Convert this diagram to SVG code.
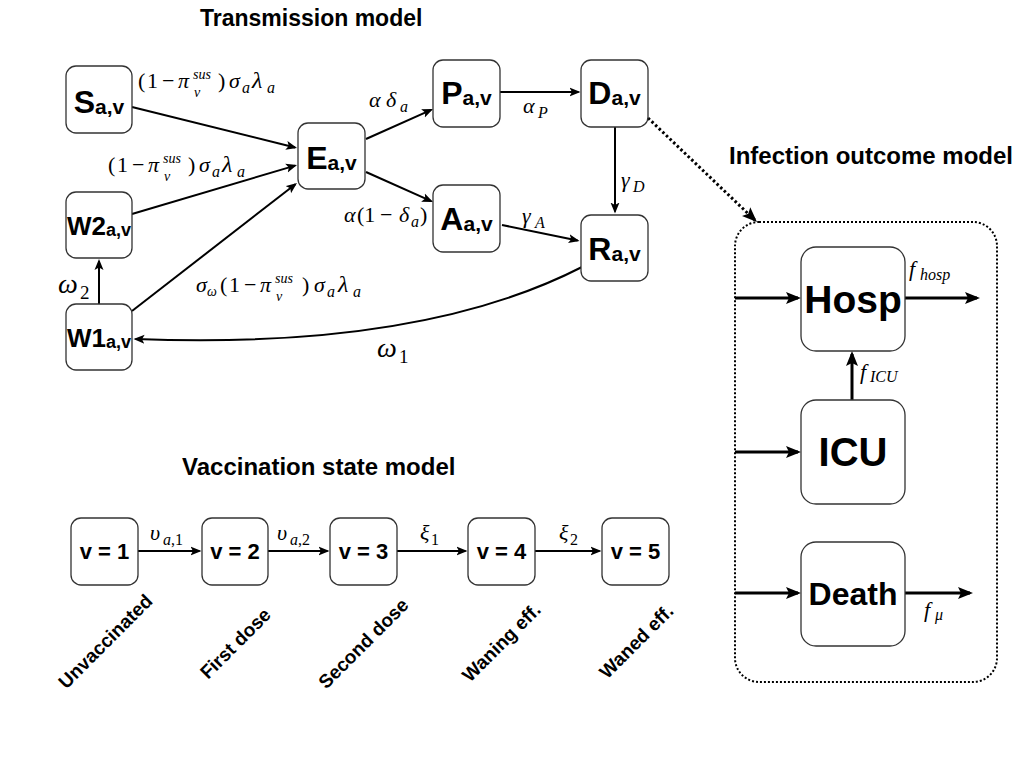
<svg xmlns="http://www.w3.org/2000/svg" width="1024" height="768" viewBox="0 0 1024 768">
<style>
  .box { fill: #fff; stroke: #333; stroke-width: 1.3; }
  .lbl { font-family: "Liberation Sans", Arial, sans-serif; font-weight: bold; fill: #000; }
  .title { font-family: "Liberation Sans", Arial, sans-serif; font-weight: bold; fill: #000; }
  .m { font-family: "Liberation Serif", "DejaVu Serif", serif; font-size: 22px; fill: #000; }
  .mi { font-style: italic; }
  .ms { font-style: italic; font-size: 16px; }
  .mss { font-style: italic; font-size: 14px; }
  .mn { font-size: 16px; }
  .edge { fill: none; stroke: #000; stroke-width: 2; }
  .edgeT { fill: none; stroke: #000; stroke-width: 3; }
  .rot { font-family: "Liberation Sans", Arial, sans-serif; font-weight: bold; font-size: 19px; fill: #000; }
</style>
<defs>
  <marker id="arr" markerUnits="userSpaceOnUse" markerWidth="12" markerHeight="10" viewBox="0 0 12 10" refX="9" refY="5" orient="auto">
    <path d="M0,0.5 L11,5 L0,9.5 L2.5,5 Z" fill="#000"/>
  </marker>
  <marker id="arrB" markerUnits="userSpaceOnUse" markerWidth="16" markerHeight="13" viewBox="0 0 16 13" refX="12" refY="6.5" orient="auto">
    <path d="M0,0.5 L15,6.5 L0,12.5 L3,6.5 Z" fill="#000"/>
  </marker>
  <marker id="arrD" markerUnits="userSpaceOnUse" markerWidth="16" markerHeight="13" viewBox="0 0 16 13" refX="12" refY="6.5" orient="auto">
    <path d="M0,0.5 L15,6.5 L0,12.5 L3,6.5 Z" fill="#000"/>
  </marker>
</defs>
<rect width="1024" height="768" fill="#fff"/>

<!-- Titles -->
<text class="title" x="200" y="26" font-size="23">Transmission model</text>
<text class="title" x="729" y="164" font-size="24">Infection outcome model</text>
<text class="title" x="182" y="475" font-size="24">Vaccination state model</text>

<!-- Connectors -->
<g id="connectors">
  <path class="edge" d="M132,107 L295.1,147.5" marker-end="url(#arr)"/>
  <path class="edge" d="M132,214 L295.1,165.6" marker-end="url(#arr)"/>
  <path class="edge" d="M132,311 L295.4,184.2" marker-end="url(#arr)"/>
  <path class="edge" d="M99,304 L99,261" marker-end="url(#arr)"/>
  <path class="edge" d="M366,139 L431.2,109.8" marker-end="url(#arr)"/>
  <path class="edge" d="M366,172 L431.2,201.2" marker-end="url(#arr)"/>
  <path class="edge" d="M500,92 L578.5,92" marker-end="url(#arr)"/>
  <path class="edge" d="M615,127 L615,211.5" marker-end="url(#arr)"/>
  <path class="edge" d="M502,225 L577.6,240.5" marker-end="url(#arr)"/>
  <path class="edge" d="M582,267 Q420,350 135.5,339" marker-end="url(#arr)"/>

  <path class="edge" stroke-width="1.7" d="M138,551 L199.5,551" marker-end="url(#arr)"/>
  <path class="edge" stroke-width="1.7" d="M268,551 L327.5,551" marker-end="url(#arr)"/>
  <path class="edge" stroke-width="1.7" d="M397,551 L465.5,551" marker-end="url(#arr)"/>
  <path class="edge" stroke-width="1.7" d="M535,551 L599.5,551" marker-end="url(#arr)"/>

  <path fill="none" stroke="#000" stroke-width="3" stroke-dasharray="2.5 2.5" d="M648,118 L754.8,220" marker-end="url(#arrD)"/>

  <path class="edgeT" d="M735,298 L798,298" marker-end="url(#arrB)"/>
  <path class="edgeT" d="M905,298 L977,298" marker-end="url(#arrB)"/>
  <path class="edgeT" d="M735,452 L798,452" marker-end="url(#arrB)"/>
  <path class="edgeT" d="M852,400 L852,354" marker-end="url(#arrB)"/>
  <path class="edgeT" d="M735,593 L798,593" marker-end="url(#arrB)"/>
  <path class="edgeT" d="M905,593 L970,593" marker-end="url(#arrB)"/>
</g>

<!-- Edge labels (math) -->
<g id="edge-labels">
  <text class="m" y="88"><tspan x="138">(</tspan><tspan x="147">1</tspan><tspan x="162">−</tspan><tspan x="178" class="mi">π</tspan><tspan x="193" y="79" class="mss">sus</tspan><tspan x="194" y="97" class="mss">v</tspan><tspan x="218" y="88">)</tspan><tspan x="229" class="mi">σ</tspan><tspan x="242" y="93" class="ms">a</tspan><tspan x="252" y="88" class="mi" font-size="24">λ</tspan><tspan x="267" y="93" class="ms">a</tspan></text>

  <text class="m" y="172"><tspan x="108">(</tspan><tspan x="117">1</tspan><tspan x="132">−</tspan><tspan x="148" class="mi">π</tspan><tspan x="163" y="163" class="mss">sus</tspan><tspan x="164" y="181" class="mss">v</tspan><tspan x="188" y="172">)</tspan><tspan x="199" class="mi">σ</tspan><tspan x="212" y="177" class="ms">a</tspan><tspan x="222" y="172" class="mi" font-size="24">λ</tspan><tspan x="237" y="177" class="ms">a</tspan></text>

  <text class="m" y="292"><tspan x="196" class="mi">σ</tspan><tspan x="207" y="296" class="mss" font-size="13">ω</tspan><tspan x="220" y="292">(</tspan><tspan x="229">1</tspan><tspan x="244">−</tspan><tspan x="260" class="mi">π</tspan><tspan x="275" y="283" class="mss">sus</tspan><tspan x="276" y="301" class="mss">v</tspan><tspan x="302" y="292">)</tspan><tspan x="314" class="mi">σ</tspan><tspan x="327" y="297" class="ms">a</tspan><tspan x="338" y="292" class="mi" font-size="24">λ</tspan><tspan x="353" y="297" class="ms">a</tspan></text>

  <text class="m" y="293"><tspan x="58" class="mi" font-size="28">ω</tspan><tspan x="80" y="299" font-size="19">2</tspan></text>
  <text class="m" y="357"><tspan x="377" class="mi" font-size="28">ω</tspan><tspan x="399" y="363" font-size="19">1</tspan></text>

  <text class="m" y="107"><tspan x="369" class="mi">α</tspan><tspan x="386" class="mi">δ</tspan><tspan x="400" y="112" class="ms">a</tspan></text>
  <text class="m" y="113"><tspan x="523" class="mi">α</tspan><tspan x="538" y="118" class="ms">P</tspan></text>
  <text class="m" y="187"><tspan x="621" class="mi">γ</tspan><tspan x="633" y="192" class="ms">D</tspan></text>
  <text class="m" y="222"><tspan x="344" class="mi">α</tspan><tspan x="357">(1</tspan><tspan x="380">−</tspan><tspan x="399" class="mi">δ</tspan><tspan x="411" y="227" class="ms">a</tspan><tspan x="420" y="222">)</tspan></text>
  <text class="m" y="223"><tspan x="522" class="mi">γ</tspan><tspan x="535" y="228" class="ms">A</tspan></text>

  <text class="m" y="540"><tspan x="150" class="mi">υ</tspan><tspan x="163" y="545" class="ms">a</tspan><tspan class="mn">,1</tspan></text>
  <text class="m" y="540"><tspan x="277" class="mi">υ</tspan><tspan x="290" y="545" class="ms">a</tspan><tspan class="mn">,2</tspan></text>
  <text class="m" y="540"><tspan x="420" class="mi">ξ</tspan><tspan x="431" y="545" class="mn">1</tspan></text>
  <text class="m" y="540"><tspan x="559" class="mi">ξ</tspan><tspan x="570" y="545" class="mn">2</tspan></text>

  <text class="m" y="276"><tspan x="909" class="mi">f</tspan><tspan x="920" y="280" class="ms">hosp</tspan></text>
  <text class="m" y="379"><tspan x="860" class="mi">f</tspan><tspan x="870" y="382" class="ms" font-size="14">ICU</tspan></text>
  <text class="m" y="617"><tspan x="924" class="mi">f</tspan><tspan x="935" y="620" class="ms">μ</tspan></text>
</g>

<!-- Transmission nodes -->
<g id="node-S"><rect class="box" x="66" y="66" width="66" height="67" rx="10"/><text class="lbl" x="99" y="113" text-anchor="middle"><tspan font-size="32">S</tspan><tspan font-size="21" dy="1">a,v</tspan></text></g>
<g id="node-W2"><rect class="box" x="66" y="192" width="66" height="66" rx="10"/><text class="lbl" x="99" y="235" text-anchor="middle"><tspan font-size="26">W2</tspan><tspan font-size="18" dy="1">a,v</tspan></text></g>
<g id="node-W1"><rect class="box" x="66" y="304" width="66" height="66" rx="10"/><text class="lbl" x="99" y="347" text-anchor="middle"><tspan font-size="26">W1</tspan><tspan font-size="18" dy="1">a,v</tspan></text></g>
<g id="node-E"><rect class="box" x="298" y="123" width="67" height="66" rx="10"/><text class="lbl" x="331.5" y="169" text-anchor="middle"><tspan font-size="32">E</tspan><tspan font-size="21" dy="1">a,v</tspan></text></g>
<g id="node-P"><rect class="box" x="433" y="60" width="67" height="67" rx="10"/><text class="lbl" x="466.5" y="104" text-anchor="middle"><tspan font-size="32">P</tspan><tspan font-size="21" dy="1">a,v</tspan></text></g>
<g id="node-D"><rect class="box" x="581" y="60" width="67" height="67" rx="10"/><text class="lbl" x="614.5" y="104" text-anchor="middle"><tspan font-size="32">D</tspan><tspan font-size="21" dy="1">a,v</tspan></text></g>
<g id="node-A"><rect class="box" x="433" y="185" width="67" height="67" rx="10"/><text class="lbl" x="466.5" y="230" text-anchor="middle"><tspan font-size="32">A</tspan><tspan font-size="21" dy="1">a,v</tspan></text></g>
<g id="node-R"><rect class="box" x="581" y="215" width="67" height="66" rx="10"/><text class="lbl" x="614.5" y="260" text-anchor="middle"><tspan font-size="32">R</tspan><tspan font-size="21" dy="1">a,v</tspan></text></g>

<!-- Infection outcome model -->
<g id="outcome-container"><rect x="735" y="222" width="262" height="460" rx="24" fill="none" stroke="#000" stroke-width="2" stroke-dasharray="2 2"/></g>
<g id="node-Hosp"><rect class="box" x="801" y="247" width="104" height="104" rx="15"/><text class="lbl" x="853" y="313" text-anchor="middle" font-size="39">Hosp</text></g>
<g id="node-ICU"><rect class="box" x="801" y="400" width="104" height="104" rx="15"/><text class="lbl" x="853" y="466" text-anchor="middle" font-size="40">ICU</text></g>
<g id="node-Death"><rect class="box" x="801" y="542" width="104" height="104" rx="15"/><text class="lbl" x="853" y="605" text-anchor="middle" font-size="32">Death</text></g>

<!-- Vaccination nodes -->
<g id="node-v1"><rect class="box" x="71" y="518" width="67" height="67" rx="10"/><text class="lbl" x="104.5" y="559" text-anchor="middle" font-size="22">v = 1</text></g>
<g id="node-v2"><rect class="box" x="202" y="518" width="66" height="67" rx="10"/><text class="lbl" x="235" y="559" text-anchor="middle" font-size="22">v = 2</text></g>
<g id="node-v3"><rect class="box" x="330" y="518" width="67" height="67" rx="10"/><text class="lbl" x="363.5" y="559" text-anchor="middle" font-size="22">v = 3</text></g>
<g id="node-v4"><rect class="box" x="468" y="518" width="67" height="67" rx="10"/><text class="lbl" x="501.5" y="559" text-anchor="middle" font-size="22">v = 4</text></g>
<g id="node-v5"><rect class="box" x="602" y="518" width="67" height="67" rx="10"/><text class="lbl" x="635.5" y="559" text-anchor="middle" font-size="22">v = 5</text></g>

<!-- Rotated state names -->
<g id="vacc-names">
  <text class="rot" x="110" y="646" text-anchor="middle" transform="rotate(-45 110 646)">Unvaccinated</text>
  <text class="rot" x="240" y="648" text-anchor="middle" transform="rotate(-45 240 648)">First dose</text>
  <text class="rot" x="368" y="648" text-anchor="middle" transform="rotate(-45 368 648)">Second dose</text>
  <text class="rot" x="506" y="647" text-anchor="middle" transform="rotate(-45 506 647)">Waning eff.</text>
  <text class="rot" x="641" y="646" text-anchor="middle" transform="rotate(-45 641 646)">Waned eff.</text>
</g>
</svg>
